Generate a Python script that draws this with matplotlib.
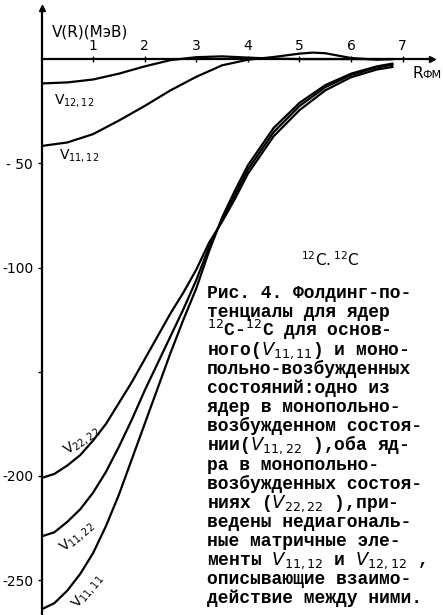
import numpy as np
import matplotlib.pyplot as plt

plt.rcParams['mathtext.fontset'] = 'dejavusans'

# folding potentials (R in fm, V in MeV)
R_main = [0, 0.25, 0.5, 0.75, 1.0, 1.25, 1.5, 1.75, 2.0, 2.25, 2.5, 2.75,
          3.0, 3.25, 3.5, 3.75, 4.0, 4.5, 5.0, 5.5, 6.0, 6.5, 6.8]
V11_11 = [-264, -261, -255, -247, -237, -224, -209, -192, -175, -158, -141, -125,
          -110, -92, -76, -63, -51, -33, -21, -12.5, -7, -3.5, -2.2]
V11_22 = [-229, -227, -222, -216, -208, -198, -186, -173, -159, -146, -133, -120,
          -106, -90, -77, -65, -53, -35, -22.5, -13.5, -7.6, -4, -2.8]
V22_22 = [-201, -199, -195, -190, -183, -175, -165, -155, -144, -133, -122, -112,
          -101, -88, -78, -67, -55, -37, -24.5, -15, -8.7, -5, -3.8]

R_off = [0, 0.5, 1.0, 1.5, 2.0, 2.5, 3.0, 3.5, 4.0, 4.5, 5.0, 5.25, 5.5, 6.0, 6.5, 6.8]
V11_12 = [-41.7, -40, -36, -29.5, -22.5, -15, -8.5, -3, -0.3, 1, 2.6, 3.1, 2.8, 0.5, -0.3, 0]
V12_12 = [-11.7, -11.2, -9.8, -7, -3.5, -0.5, 0.9, 1.3, 0.7, 0.2, 0, 0, 0, 0, 0, 0]

xticks = [1, 2, 3, 4, 5, 6, 7]
yticks = [-250, -200, -150, -100, -50]
ytick_labels = ['-250', '-200', '', '-100', '- 50']

caption = [
    "Рис. 4. Фолдинг-по-",
    "тенциалы для ядер",
    "$^{12}$C-$^{12}$C для основ-",
    "ного($V_{11,11}$) и моно-",
    "польно-возбужденных",
    "состояний:одно из",
    "ядер в монопольно-",
    "возбужденном состоя-",
    "нии($V_{11,22}$ ),оба яд-",
    "ра в монопольно-",
    "возбужденных состоя-",
    "ниях ($V_{22,22}$ ),при-",
    "ведены недиагональ-",
    "ные матричные эле-",
    "менты $V_{11,12}$ и $V_{12,12}$ ,",
    "описывающие взаимо-",
    "действие между ними.",
]

W, H = 443, 615
fig = plt.figure(figsize=(W / 100, H / 100), dpi=100)
ax = fig.add_axes([41.5 / W, 0, (432 - 41.5) / W, 607 / H])
ax.set_xlim(0, 7.568)
ax.set_ylim(-266.7, 24.5)

lw = 1.6
for V in (V11_11, V11_22, V22_22):
    ax.plot(R_main, V, color='k', lw=lw)
ax.plot(R_off, V11_12, color='k', lw=lw)
ax.plot(R_off, V12_12, color='k', lw=lw)

# axes as arrows through the origin
for s in ('right', 'bottom'):
    ax.spines[s].set_visible(False)
ax.spines['top'].set_position(('data', 0))
ax.spines['top'].set_linewidth(1.6)
ax.spines['left'].set_linewidth(1.6)
ax.xaxis.set_ticks_position('top')
ax.set_xticks(xticks)
ax.set_xticklabels([str(t) for t in xticks], fontsize=10)
ax.tick_params(axis='x', direction='inout', length=5, width=1, pad=2)
ax.set_yticks(yticks)
ax.set_yticklabels(ytick_labels, fontsize=10)
ax.tick_params(axis='y', direction='out', length=3, width=1, pad=3)
ax.plot(1, 0, '>k', ms=5, transform=ax.get_yaxis_transform(), clip_on=False)
ax.plot(0, 1, '^k', ms=5, transform=ax.get_xaxis_transform(), clip_on=False)

ax.text(0.2, 13, 'V(R)(МэВ)', fontsize=11, va='center')
fig.text(412 / W, 1 - 73 / H, 'R', fontsize=11, va='center')
fig.text(422 / W, 1 - 75 / H, 'ФМ', fontsize=8, va='center')

lab = dict(fontsize=10, ha='center', va='center')
ax.text(0.63, -20, r'$\mathregular{V_{12,12}}$', **lab)
ax.text(0.73, -46.5, r'$\mathregular{V_{11,12}}$', **lab)
ax.text(0.78, -183, r'$\mathregular{V_{22,22}}$', rotation=35, **lab)
ax.text(0.69, -229, r'$\mathregular{V_{11,22}}$', rotation=40, **lab)
ax.text(0.9, -255, r'$\mathregular{V_{11,11}}$', rotation=50, **lab)
ax.text(5.6, -96, r'$^{12}\mathregular{C}.^{12}\mathregular{C}$', fontsize=11,
        ha='center', va='center')

for i, line in enumerate(caption):
    y = 293 + 19.06 * i + 5
    fig.text(207 / W, 1 - y / H, line, fontsize=13, family='Liberation Mono',
             weight='bold', ha='left', va='baseline')

fig.savefig('out.png', dpi=100)
